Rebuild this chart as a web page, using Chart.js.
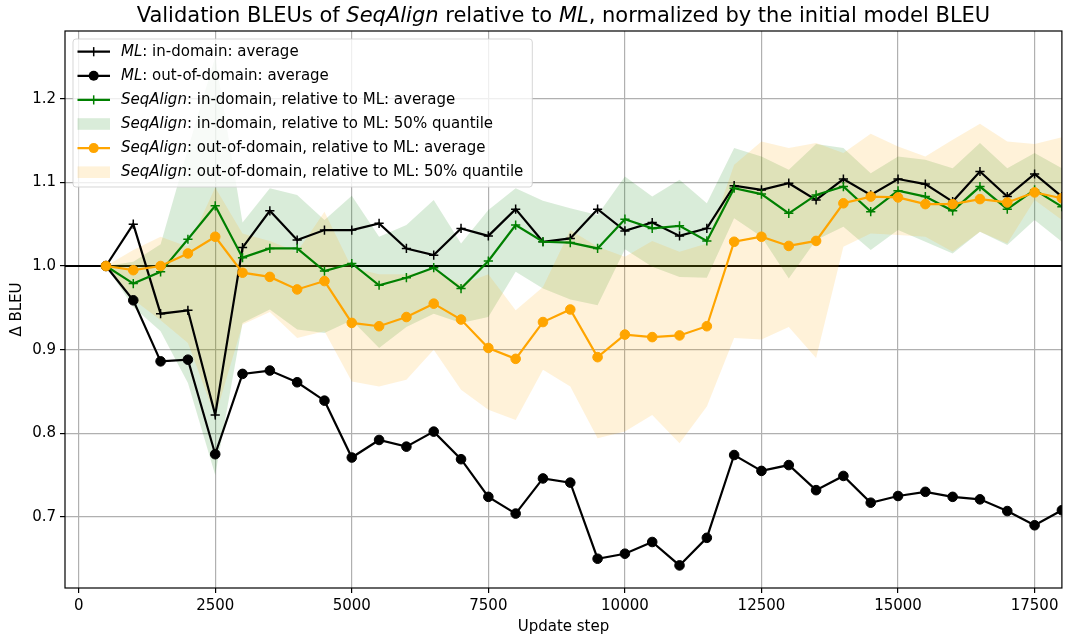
<!DOCTYPE html>
<html>
<head>
<meta charset="utf-8">
<script src="https://cdn.jsdelivr.net/npm/chart.js@4.4.0/dist/chart.umd.min.js"></script>
<style>
	html, body { margin: 0; padding: 0; background: #fff; }
</style>
</head>
<body>
<canvas id="myChart" width="1068" height="642"></canvas>
<script>
// update steps (x values)
var steps = [500, 1000, 1500, 2000, 2500, 3000, 3500, 4000, 4500, 5000,
	5500, 6000, 6500, 7000, 7500, 8000, 8500, 9000, 9500, 10000,
	10500, 11000, 11500, 12000, 12500, 13000, 13500, 14000, 14500, 15000,
	15500, 16000, 16500, 17000, 17500, 18000];

var mlIn = [1.000, 1.050, 0.943, 0.947, 0.822, 1.022, 1.066, 1.031, 1.043, 1.043,
	1.051, 1.021, 1.013, 1.045, 1.036, 1.068, 1.029, 1.033, 1.068, 1.042,
	1.052, 1.036, 1.045, 1.096, 1.091, 1.099, 1.079, 1.104, 1.085, 1.104,
	1.098, 1.077, 1.113, 1.083, 1.110, 1.083];

var mlOut = [1.000, 0.959, 0.886, 0.888, 0.775, 0.871, 0.875, 0.861, 0.839, 0.771,
	0.792, 0.784, 0.802, 0.769, 0.724, 0.704, 0.746, 0.741, 0.650, 0.656,
	0.670, 0.642, 0.675, 0.774, 0.755, 0.762, 0.732, 0.749, 0.717, 0.725,
	0.730, 0.724, 0.721, 0.707, 0.690, 0.708];

var seqIn = [1.000, 0.979, 0.993, 1.032, 1.072, 1.010, 1.021, 1.021, 0.994, 1.003,
	0.977, 0.986, 0.998, 0.973, 1.006, 1.049, 1.029, 1.028, 1.021, 1.056,
	1.045, 1.048, 1.030, 1.093, 1.086, 1.063, 1.085, 1.095, 1.065, 1.090,
	1.083, 1.066, 1.095, 1.068, 1.091, 1.071];

var seqInHi = [1.000, 1.005, 1.026, 1.140, 1.250, 1.052, 1.093, 1.085, 1.055, 1.084,
	1.035, 1.049, 1.079, 1.027, 1.067, 1.093, 1.078, 1.069, 1.061, 1.107,
	1.083, 1.103, 1.075, 1.141, 1.131, 1.115, 1.146, 1.141, 1.111, 1.131,
	1.127, 1.117, 1.147, 1.117, 1.135, 1.117];

var seqInLo = [1.000, 0.951, 0.922, 0.860, 0.750, 0.932, 0.948, 0.924, 0.920, 0.935,
	0.902, 0.927, 0.943, 0.932, 0.939, 0.993, 0.973, 0.960, 0.953, 1.020,
	0.999, 0.987, 0.986, 1.057, 1.035, 0.985, 1.031, 1.047, 1.019, 1.043,
	1.029, 1.015, 1.041, 1.025, 1.055, 1.029];

var seqOut = [1.000, 0.995, 1.000, 1.015, 1.035, 0.992, 0.987, 0.972, 0.982, 0.932,
	0.928, 0.939, 0.955, 0.936, 0.902, 0.889, 0.933, 0.948, 0.891, 0.918,
	0.915, 0.917, 0.928, 1.029, 1.035, 1.024, 1.030, 1.075, 1.083, 1.082,
	1.074, 1.074, 1.080, 1.076, 1.088, 1.081];

var seqOutHi = [1.000, 1.019, 1.035, 1.023, 1.094, 1.039, 1.030, 1.017, 1.065, 0.998,
	0.990, 0.990, 0.995, 0.978, 0.990, 0.947, 0.975, 1.043, 1.023, 1.011,
	1.030, 1.017, 1.027, 1.121, 1.149, 1.141, 1.147, 1.135, 1.158, 1.143,
	1.131, 1.151, 1.170, 1.149, 1.146, 1.154];

var seqOutLo = [1.000, 0.960, 0.935, 0.908, 0.820, 0.930, 0.945, 0.914, 0.922, 0.862,
	0.856, 0.864, 0.900, 0.852, 0.828, 0.816, 0.876, 0.856, 0.794, 0.802,
	0.822, 0.788, 0.832, 0.914, 0.912, 0.927, 0.890, 1.023, 1.039, 1.037,
	1.035, 1.017, 1.041, 1.027, 1.079, 1.055];

var xTicks = [0, 2500, 5000, 7500, 10000, 12500, 15000, 17500];
var yTicks = [0.7, 0.8, 0.9, 1.0, 1.1, 1.2];
var baseline = 1.0;

// *text* = italic
var titleText = 'Validation BLEUs of *SeqAlign* relative to *ML*, normalized by the initial model BLEU';
var legendLabels = [
	'*ML*: in-domain: average',
	'*ML*: out-of-domain: average',
	'*SeqAlign*: in-domain, relative to ML: average',
	'*SeqAlign*: in-domain, relative to ML: 50% quantile',
	'*SeqAlign*: out-of-domain, relative to ML: average',
	'*SeqAlign*: out-of-domain, relative to ML: 50% quantile'
];

var FONT = '"DejaVu Sans", sans-serif';
var GREEN = '#008000';
var ORANGE = '#ffa500';
var GREEN_BAND = 'rgba(0,128,0,0.15)';
var ORANGE_BAND = 'rgba(255,165,0,0.15)';

function pts(arr) {
	return steps.map(function(s, i) { return {x: s, y: arr[i]}; });
}

function lineSet(label, arr, color, style, order) {
	return {
		label: label,
		data: pts(arr),
		borderColor: color,
		backgroundColor: color,
		borderWidth: 2.2,
		pointStyle: style,
		pointRadius: style == 'circle' ? 4.8 : 4.6,
		pointBorderWidth: style == 'circle' ? 1 : 1.5,
		pointBorderColor: color,
		pointBackgroundColor: color,
		fill: false,
		tension: 0,
		order: order
	};
}

function bandSet(arr, fill, color, order) {
	return {
		data: pts(arr),
		borderColor: 'rgba(0,0,0,0)',
		borderWidth: 0,
		pointRadius: 0,
		fill: fill,
		backgroundColor: color,
		tension: 0,
		order: order
	};
}

// draws text with *italic* parts
function richText(ctx, text, x, y, size, align) {
	var parts = text.split('*');
	var w = textWidth(ctx, text, size);
	var cx = align == 'center' ? x - w / 2 : x;
	for (var i = 0; i < parts.length; i++) {
		ctx.font = (i % 2 ? 'italic ' : '') + size + 'px ' + FONT;
		ctx.fillText(parts[i], cx, y);
		cx += ctx.measureText(parts[i]).width;
	}
	return w;
}

function textWidth(ctx, text, size) {
	var parts = text.split('*');
	var w = 0;
	for (var i = 0; i < parts.length; i++) {
		ctx.font = (i % 2 ? 'italic ' : '') + size + 'px ' + FONT;
		w += ctx.measureText(parts[i]).width;
	}
	return w;
}

function roundRect(ctx, x, y, w, h, r) {
	ctx.beginPath();
	ctx.moveTo(x + r, y);
	ctx.lineTo(x + w - r, y);
	ctx.quadraticCurveTo(x + w, y, x + w, y + r);
	ctx.lineTo(x + w, y + h - r);
	ctx.quadraticCurveTo(x + w, y + h, x + w - r, y + h);
	ctx.lineTo(x + r, y + h);
	ctx.quadraticCurveTo(x, y + h, x, y + h - r);
	ctx.lineTo(x, y + r);
	ctx.quadraticCurveTo(x, y, x + r, y);
	ctx.closePath();
}

var decor = {
	id: 'decor',
	beforeDatasetsDraw: function(chart) {
		var ctx = chart.ctx, a = chart.chartArea;
		var py = chart.scales.y.getPixelForValue(baseline);
		ctx.save();
		ctx.strokeStyle = '#000';
		ctx.lineWidth = 2;
		ctx.beginPath();
		ctx.moveTo(a.left, py);
		ctx.lineTo(a.right, py);
		ctx.stroke();
		ctx.restore();
	},
	afterDatasetsDraw: function(chart) {
		var ctx = chart.ctx, a = chart.chartArea;
		ctx.save();
		ctx.strokeStyle = '#000';
		ctx.lineWidth = 1.2;
		ctx.strokeRect(a.left, a.top, a.right - a.left, a.bottom - a.top);
		ctx.restore();
	},
	afterDraw: function(chart) {
		var ctx = chart.ctx, a = chart.chartArea;
		var cx = (a.left + a.right) / 2;
		ctx.save();
		ctx.fillStyle = '#000';
		ctx.textBaseline = 'alphabetic';
		richText(ctx, titleText, cx, a.top - 9, 21, 'center');

		ctx.font = '15px ' + FONT;
		ctx.textAlign = 'center';
		ctx.fillText('Update step', cx, 631);
		ctx.save();
		ctx.translate(17.5, (a.top + a.bottom) / 2);
		ctx.rotate(-Math.PI / 2);
		ctx.textBaseline = 'middle';
		ctx.fillText('\u0394 BLEU', 0, 0);
		ctx.restore();
		ctx.textAlign = 'left';

		// legend
		var handles = [
			{color: '#000', kind: 'plus'},
			{color: '#000', kind: 'dot'},
			{color: GREEN, kind: 'plus'},
			{color: GREEN_BAND, kind: 'patch'},
			{color: ORANGE, kind: 'dot'},
			{color: ORANGE_BAND, kind: 'patch'}
		];
		var maxW = 0;
		for (var i = 0; i < legendLabels.length; i++) {
			maxW = Math.max(maxW, textWidth(ctx, legendLabels[i], 15));
		}
		var bx = 73, by = 39, bw = 48 + maxW + 9, bh = 148;
		roundRect(ctx, bx, by, bw, bh, 3);
		ctx.fillStyle = 'rgba(255,255,255,0.8)';
		ctx.fill();
		ctx.strokeStyle = 'rgba(204,204,204,0.8)';
		ctx.lineWidth = 1;
		ctx.stroke();

		for (var i = 0; i < legendLabels.length; i++) {
			var ry = 51.7 + i * 24.1;
			var h = handles[i];
			if (h.kind == 'patch') {
				ctx.fillStyle = h.color;
				ctx.fillRect(77.5, ry - 5.8, 32.5, 11.6);
			} else {
				ctx.strokeStyle = h.color;
				ctx.lineWidth = 2.2;
				ctx.beginPath();
				ctx.moveTo(77.5, ry);
				ctx.lineTo(110, ry);
				ctx.stroke();
				if (h.kind == 'plus') {
					ctx.lineWidth = 1.5;
					ctx.beginPath();
					ctx.moveTo(93.7, ry - 4.6);
					ctx.lineTo(93.7, ry + 4.6);
					ctx.stroke();
				} else {
					ctx.fillStyle = h.color;
					ctx.beginPath();
					ctx.arc(93.7, ry, 5, 0, Math.PI * 2);
					ctx.fill();
				}
			}
			ctx.fillStyle = '#000';
			ctx.textBaseline = 'middle';
			richText(ctx, legendLabels[i], 121, ry, 15, 'left');
		}
		ctx.restore();
	}
};

var ctx = document.getElementById('myChart').getContext('2d');

var chart = new Chart(ctx, {
	type: 'line',
	data: {
		datasets: [
			lineSet('ML: in-domain: average', mlIn, '#000', 'cross', 6),
			lineSet('ML: out-of-domain: average', mlOut, '#000', 'circle', 5),
			lineSet('SeqAlign: in-domain: average', seqIn, GREEN, 'cross', 4),
			bandSet(seqInHi, '+1', GREEN_BAND, 20),
			bandSet(seqInLo, false, GREEN_BAND, 20),
			lineSet('SeqAlign: out-of-domain: average', seqOut, ORANGE, 'circle', 3),
			bandSet(seqOutHi, '+1', ORANGE_BAND, 19),
			bandSet(seqOutLo, false, ORANGE_BAND, 19)
		]
	},
	options: {
		responsive: false,
		devicePixelRatio: 1,
		animation: false,
		layout: {padding: {left: 0, top: 31, right: 4, bottom: 0}},
		plugins: {
			legend: {display: false},
			tooltip: {enabled: false},
			title: {display: false}
		},
		scales: {
			x: {
				type: 'linear',
				min: -250,
				max: 18000,
				afterBuildTicks: function(s) { s.ticks = xTicks.map(function(v) { return {value: v}; }); },
				afterFit: function(s) { s.height = 54; },
				border: {display: false},
				grid: {color: '#b0b0b0', lineWidth: 1.2, tickLength: 5, tickColor: '#000', tickWidth: 1.2},
				ticks: {
					color: '#000',
					font: {family: 'DejaVu Sans', size: 15},
					padding: 4,
					maxRotation: 0,
					autoSkip: false,
					callback: function(v) { return String(v); }
				}
			},
			y: {
				type: 'linear',
				min: 0.615,
				max: 1.281,
				afterBuildTicks: function(s) { s.ticks = yTicks.map(function(v) { return {value: v}; }); },
				afterFit: function(s) { s.width = 65; },
				border: {display: false},
				grid: {color: '#b0b0b0', lineWidth: 1.2, tickLength: 5, tickColor: '#000', tickWidth: 1.2},
				ticks: {
					color: '#000',
					font: {family: 'DejaVu Sans', size: 15},
					padding: 4,
					autoSkip: false,
					callback: function(v) { return v.toFixed(1); }
				}
			}
		}
	},
	plugins: [decor]
});
</script>
</body>
</html>
